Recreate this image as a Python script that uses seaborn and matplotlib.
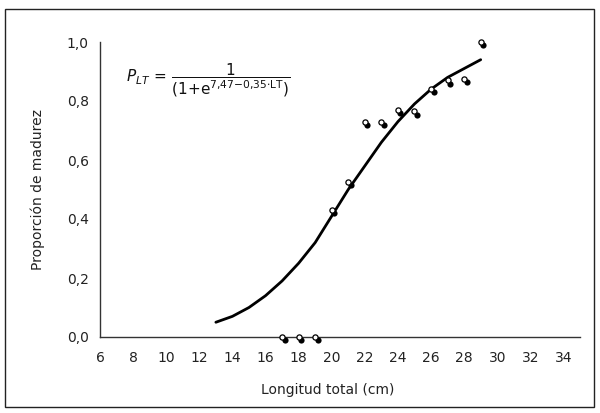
import matplotlib
matplotlib.use('Agg')
import matplotlib.pyplot as plt
import matplotlib.transforms as mtransforms
from matplotlib.patches import Rectangle
import seaborn as sns
import pandas as pd

# observed proportions of mature fish per length class
obs_lt = [17, 18, 19, 20, 21, 22, 23, 24, 25, 26, 27, 28, 29]
obs_p = [0.0, 0.0, 0.0, 0.43, 0.525, 0.73, 0.73, 0.77, 0.765, 0.84, 0.87, 0.875, 1.0]

# fitted logistic curve
fit_lt = [13, 14, 15, 16, 17, 18, 19, 20, 21, 22, 23, 24, 25, 26, 27, 28, 29]
fit_p = [0.05, 0.07, 0.10, 0.14, 0.19, 0.25, 0.32, 0.41, 0.50, 0.58, 0.66, 0.73,
         0.79, 0.84, 0.88, 0.91, 0.94]

x_ticks = list(range(6, 36, 2))
y_ticks = [0.0, 0.2, 0.4, 0.6, 0.8, 1.0]

obs = pd.DataFrame({'lt': obs_lt, 'p': obs_p})
fit = pd.DataFrame({'lt': fit_lt, 'p': fit_p})

sns.set_style('white')
plt.rcParams['font.family'] = ['DejaVu Sans']
plt.rcParams['mathtext.fontset'] = 'dejavusans'

fig = plt.figure(figsize=(6, 4.13), dpi=100)
ax = fig.add_axes([100 / 600, 1 - 337 / 413, 480 / 600, 295 / 413])

sns.lineplot(data=fit, x='lt', y='p', color='black', linewidth=2.0, ax=ax, zorder=2)

# shadow dot slightly below-right, open circle on the data point
shadow = mtransforms.offset_copy(ax.transData, fig=fig, x=2.5, y=-3.2, units='dots')
ax.scatter(obs['lt'], obs['p'], s=20, color='black', linewidths=0,
           transform=shadow, zorder=3, clip_on=False)
sns.scatterplot(data=obs, x='lt', y='p', s=14, facecolor='white', edgecolor='black',
                linewidth=0.9, ax=ax, zorder=4, clip_on=False)

ax.set_xlim(6, 35)
ax.set_ylim(0, 1.0)
ax.set_xticks(x_ticks)
ax.set_yticks(y_ticks)
ax.set_xticklabels([str(t) for t in x_ticks])
ax.set_yticklabels([f'{t:.1f}'.replace('.', ',') for t in y_ticks])

for side in ['top', 'right']:
    ax.spines[side].set_visible(False)
for side in ['left', 'bottom']:
    ax.spines[side].set_color('#333333')
    ax.spines[side].set_linewidth(1.0)
ax.tick_params(axis='both', direction='out', length=4, width=0.9, color='#333333',
               labelsize=10, labelcolor='#222222', pad=4)
ax.tick_params(axis='x', pad=6)

ax.set_xlabel('Longitud total (cm)', fontsize=10, color='#222222')
ax.set_ylabel('Proporción de madurez', fontsize=10, color='#222222')
ax.xaxis.set_label_coords(0.475, -0.155)
ax.yaxis.set_label_coords(-0.115, 0.5)

ax.text(7.6, 0.87,
        r'$P_{LT}\,=\,\dfrac{\mathrm{1}}{(\mathrm{1{+}e}^{\mathrm{7{,}47{-}0{,}35{\cdot}LT}})}$',
        fontsize=11, ha='left', va='center', color='#111111')

fig.patches.append(Rectangle((5 / 600, 1 - 407 / 413), 589 / 600, 398 / 413,
                             transform=fig.transFigure, fill=False,
                             edgecolor='#222222', linewidth=1.0))

fig.savefig('out.png', dpi=100)
